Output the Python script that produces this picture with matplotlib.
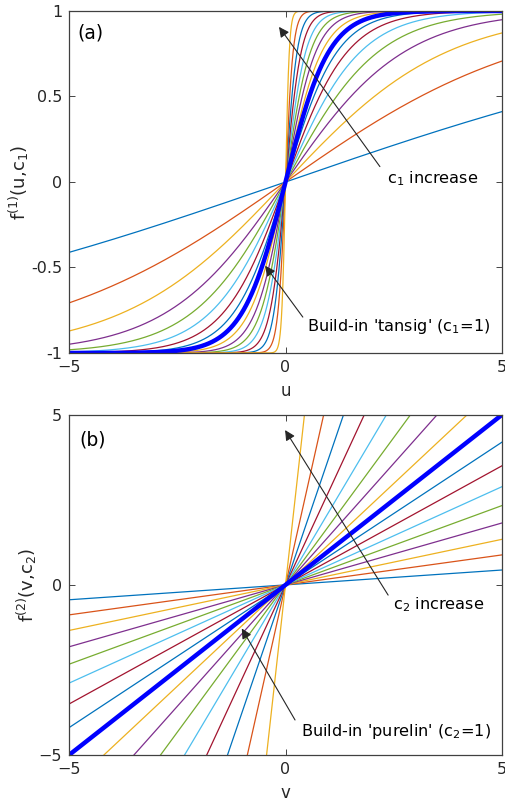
import numpy as np
import matplotlib.pyplot as plt

# slope parameters c (tan of 5..85 deg), same set for both panels
c_vals = [0.0875, 0.1763, 0.2679, 0.3640, 0.4663, 0.5774, 0.7002, 0.8391, 1.0,
          1.1918, 1.4281, 1.7321, 2.1445, 2.7475, 3.7321, 5.6713, 11.4301]
c_ref = 1.0
x_ticks = [-5, 0, 5]
ya_ticks = [-1, -0.5, 0, 0.5, 1]
ya_labels = ['-1', '-0.5', '0', '0.5', '1']
yb_ticks = [-5, 0, 5]

colors = ['#0072BD', '#D95319', '#EDB120', '#7E2F8E', '#77AC30', '#4DBEEE', '#A2142F']

plt.rcParams['font.family'] = 'DejaVu Sans'
plt.rcParams['font.size'] = 11

fig = plt.figure(figsize=(5.06, 8.01), dpi=100)
axa = fig.add_axes([0.1364, 0.5593, 0.8557, 0.427])
axb = fig.add_axes([0.1364, 0.0574, 0.8557, 0.4248])

u = np.linspace(-5, 5, 2001)

for i, c in enumerate(c_vals):
    col = colors[i % len(colors)]
    axa.plot(u, np.tanh(c * u), color=col, lw=0.9)
    axb.plot(u, c * u, color=col, lw=0.9)
axa.plot(u, np.tanh(c_ref * u), color='#0000FF', lw=3.2)
axb.plot(u, c_ref * u, color='#0000FF', lw=3.2)

def style(ax, yt, ylab=None):
    ax.set_xlim(-5, 5)
    ax.set_xticks(x_ticks)
    ax.set_yticks(yt)
    if ylab:
        ax.set_yticklabels(ylab)
    ax.tick_params(direction='in', top=True, right=True, length=4, width=0.6,
                   colors='#262626', labelsize=11.5, pad=5)
    for s in ax.spines.values():
        s.set_color('#404040')
        s.set_linewidth(0.9)

axa.set_ylim(-1, 1)
style(axa, ya_ticks, ya_labels)
axa.set_xlabel('u', labelpad=5, color='#262626', fontsize=12)
axa.set_ylabel(r'f$^{\mathregular{(1)}}$(u,c$_{\mathregular{1}}$)', color='#262626',
               labelpad=0, fontsize=13)
axa.text(-4.8, 0.87, '(a)', fontsize=13.5, va='center', ha='left')

axb.set_ylim(-5, 5)
style(axb, yb_ticks)
axb.set_xlabel('v', labelpad=5, color='#262626', fontsize=12)
axb.set_ylabel(r'f$^{\mathregular{(2)}}$(v,c$_{\mathregular{2}}$)', color='#262626',
               labelpad=0, fontsize=13)
axb.text(-4.75, 4.25, '(b)', fontsize=13.5, va='center', ha='left')

arr = dict(arrowstyle='-|>', color='#262626', lw=0.8, mutation_scale=15, shrinkA=0, shrinkB=0)
fs = 11.6

axa.annotate('', xy=(-0.15, 0.907), xytext=(2.18, 0.09), arrowprops=arr)
axa.text(2.34, 0.02, r'c$_{\mathregular{1}}$ increase', fontsize=fs, va='center', ha='left')
axa.annotate('', xy=(-0.47, -0.49), xytext=(0.40, -0.79), arrowprops=arr)
axa.text(0.5, -0.845, r"Build-in 'tansig' (c$_{\mathregular{1}}$=1)", fontsize=fs,
         va='center', ha='left')

axb.annotate('', xy=(-0.01, 4.55), xytext=(2.37, -0.3), arrowprops=arr)
axb.text(2.48, -0.59, r'c$_{\mathregular{2}}$ increase', fontsize=fs, va='center', ha='left')
axb.annotate('', xy=(-1.01, -1.28), xytext=(0.22, -3.97), arrowprops=arr)
axb.text(0.35, -4.3, r"Build-in 'purelin' (c$_{\mathregular{2}}$=1)", fontsize=fs,
         va='center', ha='left')

fig.savefig('out.png', dpi=100)
